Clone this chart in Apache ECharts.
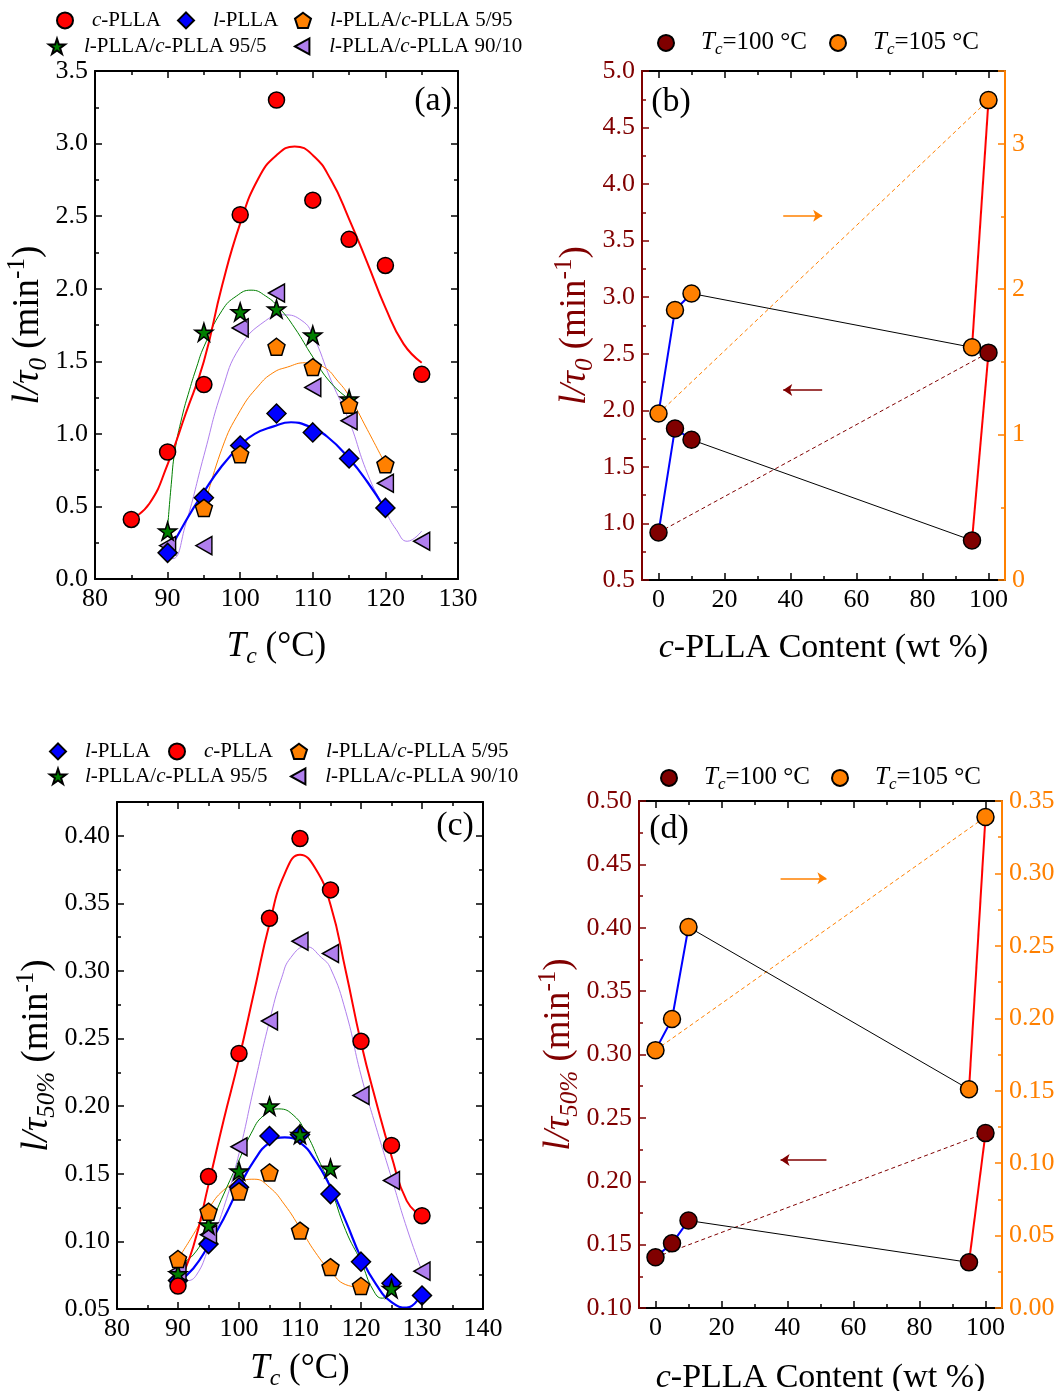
<!DOCTYPE html>
<html><head><meta charset="utf-8">
<script src="https://cdn.jsdelivr.net/npm/echarts@6/dist/echarts.min.js"></script>
<style>html,body{margin:0;padding:0;background:#fff}#c{width:1058px;height:1391px}</style>
</head><body><div id="c"></div>
<script>
// ---------- Panel (a): 1/tau0 vs Tc ----------
const a_cPLLA_T = [85, 90, 95, 100, 105, 110, 115, 120, 125];
const a_cPLLA   = [0.41, 0.875, 1.34, 2.51, 3.30, 2.61, 2.34, 2.16, 1.41];
const a_lPLLA_T = [90, 95, 100, 105, 110, 115, 120];
const a_lPLLA   = [0.18, 0.56, 0.92, 1.14, 1.01, 0.83, 0.49];
const a_595_T   = [95, 100, 105, 110, 115, 120];
const a_595     = [0.49, 0.86, 1.60, 1.46, 1.20, 0.79];
const a_955_T   = [90, 95, 100, 105, 110, 115];
const a_955     = [0.33, 1.70, 1.84, 1.86, 1.68, 1.24];
const a_9010_T  = [90, 95, 100, 105, 110, 115, 120, 125];
const a_9010    = [0.23, 0.23, 1.73, 1.97, 1.32, 1.09, 0.66, 0.26];
// fitted curves
const aFit_c_T = [85, 87.5, 90, 92.5, 95, 97.5, 100, 102.5, 105, 107.5, 110, 112.5, 115, 117.5, 120, 122.5, 125];
const aFit_c   = [0.41, 0.52, 0.79, 1.14, 1.50, 2.02, 2.45, 2.76, 2.92, 2.98, 2.92, 2.75, 2.48, 2.18, 1.87, 1.62, 1.49];
const aFit_l_T = [90, 92.5, 95, 97.5, 100, 102, 104.5, 107, 109.5, 112, 115, 117.5, 120];
const aFit_l   = [0.17, 0.40, 0.60, 0.78, 0.92, 1.00, 1.05, 1.08, 1.05, 0.98, 0.83, 0.67, 0.48];
const aFit_595_T = [95, 97.5, 100, 102.5, 104.5, 106.5, 109, 111.5, 113.5, 115, 117.5, 120];
const aFit_595   = [0.48, 0.90, 1.16, 1.33, 1.42, 1.46, 1.49, 1.46, 1.36, 1.26, 1.03, 0.79];
const aFit_955_T = [90, 90.5, 91, 92, 93, 94, 95, 97.5, 99.5, 101.5, 103.5, 105.5, 107.5, 110, 112.5, 115];
const aFit_955   = [0.35, 0.65, 0.88, 1.12, 1.30, 1.46, 1.60, 1.85, 1.95, 1.99, 1.95, 1.86, 1.73, 1.53, 1.35, 1.24];
const aFit_9010_T = [90, 90.7, 92.5, 95, 97.5, 100, 103.5, 106, 108.5, 110, 112.5, 115, 117.5, 120, 121.5, 123, 125];
const aFit_9010   = [0.17, 0.14, 0.38, 0.85, 1.30, 1.60, 1.78, 1.82, 1.78, 1.68, 1.37, 1.09, 0.73, 0.47, 0.34, 0.26, 0.33];

// ---------- Panel (b): 1/tau0 vs c-PLLA content ----------
const contentB = [0, 5, 10, 95, 100];
const b_Tc100 = [0.92, 1.84, 1.74, 0.85, 2.51];
const b_Tc105 = [1.145, 1.857, 1.97, 1.60, 3.30];
const arrowB_right = [[37.8, 3.72], [49.6, 3.72]];
const arrowB_left  = [[49.6, 2.18], [37.8, 2.18]];

// ---------- Panel (c): 1/tau50% vs Tc ----------
const c_T = [90, 95, 100, 105, 110, 115, 120, 125, 130];
const c_cPLLA = [0.067, 0.148, 0.239, 0.339, 0.398, 0.360, 0.248, 0.171, 0.119];
const c_lPLLA = [0.071, 0.098, 0.140, 0.178, 0.179, 0.135, 0.085, 0.069, 0.060];
const c_595_T = [90, 95, 100, 105, 110, 115, 120];
const c_595   = [0.087, 0.122, 0.137, 0.151, 0.108, 0.081, 0.067];
const c_955_T = [90, 95, 100, 105, 110, 115, 125];
const c_955   = [0.076, 0.112, 0.152, 0.200, 0.179, 0.154, 0.065];
const c_9010  = [0.078, 0.105, 0.170, 0.263, 0.322, 0.313, 0.208, 0.145, 0.078];
const cFit_c_T = [90, 92.5, 95, 97.5, 100, 102.5, 105, 107.5, 110, 112.5, 115, 117.5, 120, 122.5, 125, 127.5, 130];
const cFit_c   = [0.068, 0.096, 0.142, 0.190, 0.235, 0.285, 0.335, 0.372, 0.386, 0.376, 0.349, 0.300, 0.247, 0.203, 0.163, 0.130, 0.118];
const cFit_l_T = [90, 92.5, 95, 97.5, 100, 102.5, 105, 107.5, 110, 112.5, 115, 117.5, 120, 122.5, 125, 127.5, 130];
const cFit_l   = [0.070, 0.080, 0.097, 0.117, 0.140, 0.160, 0.173, 0.177, 0.173, 0.160, 0.140, 0.115, 0.088, 0.068, 0.055, 0.051, 0.062];
const cFit_595_T = [90, 92.5, 95, 97.5, 100, 102.5, 105, 107.5, 110, 112.5, 115, 117.5, 120];
const cFit_595   = [0.087, 0.105, 0.124, 0.138, 0.144, 0.146, 0.140, 0.127, 0.110, 0.092, 0.078, 0.068, 0.066];
const cFit_955_T = [90, 92.5, 95, 97.5, 100, 102, 104, 106.5, 109, 111, 113, 115, 117.5, 120, 122, 123.5, 125];
const cFit_955   = [0.083, 0.090, 0.110, 0.135, 0.160, 0.180, 0.193, 0.198, 0.193, 0.180, 0.161, 0.140, 0.108, 0.085, 0.064, 0.058, 0.062];
const cFit_9010_T = [90, 91.5, 93, 95, 97.5, 100, 102.5, 105, 107, 108.5, 111, 113.5, 115, 117.5, 120, 122.5, 125, 127.5, 130];
const cFit_9010   = [0.078, 0.071, 0.075, 0.095, 0.125, 0.165, 0.215, 0.263, 0.295, 0.310, 0.318, 0.310, 0.302, 0.270, 0.223, 0.184, 0.147, 0.110, 0.078];

// ---------- Panel (d): 1/tau50% vs c-PLLA content ----------
const contentD = [0, 5, 10, 95, 100];
const d_Tc100 = [0.140, 0.151, 0.169, 0.136, 0.238];
const d_Tc105 = [0.178, 0.1995, 0.263, 0.151, 0.339];
const arrowD_right = [[37.9, 0.439], [51.8, 0.439]];
const arrowD_left  = [[51.8, 0.2168], [37.9, 0.2168]];

// tick labels
const xTicksAC = { a: [80, 130, 10], c: [80, 140, 10] };
const contentMajor = [0, 20, 40, 60, 80, 100];
const contentMinor = [10, 30, 50, 70, 90];

// ---------- styling helpers ----------
const FONT = 'Liberation Serif';
const TICK_FS = 26;
const RED = '#ff0000', BLUE = '#0000ff', ORANGE = '#ff8000', GREEN = '#007f00', PURPLE = '#b07fee', MAROON = '#800000';
const SYM = {
  circle: 'circle',
  diamond: 'diamond',
  pentagon: 'path://M0,-1L0.951,-0.309L0.588,0.809L-0.588,0.809L-0.951,-0.309Z',
  star: 'path://M0,-1L0.2245,-0.309L0.951,-0.309L0.363,0.118L0.588,0.809L0,0.382L-0.588,0.809L-0.363,0.118L-0.951,-0.309L-0.2245,-0.309Z',
  triL: 'path://M-1,0L0.8,-1L0.8,1Z'
};
function rich(size, color) {
  return {
    i: { fontFamily: FONT, fontStyle: 'italic', fontSize: size, color: color, lineHeight: size * 1.25 },
    n: { fontFamily: FONT, fontSize: size, color: color, lineHeight: size * 1.25 },
    sub: { fontFamily: FONT, fontStyle: 'italic', fontSize: size * 0.68, color: color, lineHeight: size * 0.68, verticalAlign: 'bottom' },
    sup: { fontFamily: FONT, fontSize: size * 0.68, color: color, lineHeight: size * 0.68, verticalAlign: 'top' }
  };
}
const NAME_FMT = {
  'c-PLLA': '{i|c}{n|-PLLA}',
  'l-PLLA': '{i|l}{n|-PLLA}',
  'l-PLLA/c-PLLA 5/95': '{i|l}{n|-PLLA/}{i|c}{n|-PLLA 5/95}',
  'l-PLLA/c-PLLA 95/5': '{i|l}{n|-PLLA/}{i|c}{n|-PLLA 95/5}',
  'l-PLLA/c-PLLA 90/10': '{i|l}{n|-PLLA/}{i|c}{n|-PLLA 90/10}',
  'Tc=100 °C': '{i|T}{sub|c}{n|=100 °C}',
  'Tc=105 °C': '{i|T}{sub|c}{n|=105 °C}'
};
function leg(name, cx, cy, size, pad) {
  return {
    data: [name], left: cx - 8, top: cy - size * 0.625, itemWidth: 16, itemHeight: 16, itemGap: 0, padding: 0,
    selectedMode: false, orient: 'horizontal',
    textStyle: { fontFamily: FONT, fontSize: size, color: '#000', padding: [0, 0, 0, pad], rich: rich(size, '#000') },
    formatter: function (n) { return NAME_FMT[n] || n; }
  };
}
function vAxis(o) {
  const col = o.color || '#000';
  const ax = {
    type: 'value', gridIndex: o.g, min: o.min, max: o.max, position: o.pos,
    axisLine: { show: o.line !== false, onZero: false, lineStyle: { color: col, width: 2 } },
    axisTick: { show: true, inside: true, length: o.tickLen || 7, lineStyle: { color: col, width: 1.5 } },
    minorTick: { show: o.minor !== false, splitNumber: 2, length: 4, lineStyle: { color: col, width: 1.5 } },
    splitLine: { show: false }, minorSplitLine: { show: false },
    axisLabel: { show: !!o.labels, color: o.labelColor || '#000', fontFamily: FONT, fontSize: TICK_FS, margin: 7, formatter: o.fmt },
    z: o.z || 5
  };
  if (o.interval != null) ax.interval = o.interval;
  if (o.hideMax) ax.axisLabel.showMaxLabel = false;
  if (o.ticks) ax.axisTick.customValues = o.ticks;
  if (o.labelVals) ax.axisLabel.customValues = o.labelVals;
  if (o.name) {
    ax.name = o.name; ax.nameLocation = 'middle'; ax.nameGap = o.nameGap;
    if (o.nameRotate != null) ax.nameRotate = o.nameRotate;
    ax.nameTextStyle = { fontFamily: FONT, fontSize: o.nameSize, color: o.nameColor || '#000', rich: rich(o.nameSize, o.nameColor || '#000') };
  }
  return ax;
}
const zip = (xs, ys) => xs.map((x, i) => [x, ys[i]]);
function fit(name, xs, ys, color, w, xi, yi) {
  return { name: name, type: 'line', xAxisIndex: xi, yAxisIndex: yi, data: zip(xs, ys), smooth: 0.5, symbol: 'none', showSymbol: false,
    lineStyle: { color: color, width: w }, z: 2, silent: true };
}
function sc(name, xs, ys, color, sym, size, xi, yi, z) {
  return { name: name, type: 'scatter', xAxisIndex: xi, yAxisIndex: yi, data: zip(xs, ys), symbol: sym, symbolSize: size,
    itemStyle: { color: color, borderColor: '#000', borderWidth: 1.5, opacity: 1 }, z: z || 3 };
}
function seg(name, xs, ys, idx, color, w, type, xi, yi) {
  return { name: name, type: 'line', xAxisIndex: xi, yAxisIndex: yi, data: idx.map(i => [xs[i], ys[i]]), symbol: 'none',
    lineStyle: { color: color, width: w, type: type || 'solid' }, z: 2, silent: true };
}
function arrow(pts, color) {
  return [{ coord: pts[0], lineStyle: { color: color, width: 1.5, type: 'solid' } }, { coord: pts[1] }];
}

const tcName = '{i|T}{sub|c}{n| (°C)}';
const contentName = '{i|c}{n|-PLLA Content (wt %)}';

const xAxes = [
  // (a)
  vAxis({ g: 0, min: xTicksAC.a[0], max: xTicksAC.a[1], interval: xTicksAC.a[2], pos: 'bottom', labels: true, name: tcName, nameGap: 46, nameSize: 35 }),
  vAxis({ g: 0, min: xTicksAC.a[0], max: xTicksAC.a[1], interval: xTicksAC.a[2], pos: 'top' }),
  // (b)
  vAxis({ g: 1, min: -5, max: 105, pos: 'bottom', labels: true, minor: false, ticks: contentMajor, labelVals: contentMajor, name: contentName, nameGap: 47, nameSize: 34 }),
  vAxis({ g: 1, min: -5, max: 105, pos: 'bottom', line: false, minor: false, ticks: contentMinor, tickLen: 4 }),
  vAxis({ g: 1, min: -5, max: 105, pos: 'top', minor: false, ticks: contentMajor }),
  vAxis({ g: 1, min: -5, max: 105, pos: 'top', line: false, minor: false, ticks: contentMinor, tickLen: 4 }),
  // (c)
  vAxis({ g: 2, min: xTicksAC.c[0], max: xTicksAC.c[1], interval: xTicksAC.c[2], pos: 'bottom', labels: true, name: tcName, nameGap: 38, nameSize: 35 }),
  vAxis({ g: 2, min: xTicksAC.c[0], max: xTicksAC.c[1], interval: xTicksAC.c[2], pos: 'top' }),
  // (d)
  vAxis({ g: 3, min: -5, max: 105, pos: 'bottom', labels: true, minor: false, ticks: contentMajor, labelVals: contentMajor, name: contentName, nameGap: 49, nameSize: 34 }),
  vAxis({ g: 3, min: -5, max: 105, pos: 'bottom', line: false, minor: false, ticks: contentMinor, tickLen: 4 }),
  vAxis({ g: 3, min: -5, max: 105, pos: 'top', minor: false, ticks: contentMajor }),
  vAxis({ g: 3, min: -5, max: 105, pos: 'top', line: false, minor: false, ticks: contentMinor, tickLen: 4 })
];
const f1 = v => v.toFixed(1), f2 = v => v.toFixed(2), f0 = v => String(Math.round(v));
const tau0Name = '{i|l/τ}{sub|0}{n| (min}{sup|-1}{n|)}';
const tau50Name = '{i|l/τ}{sub|50%}{n| (min}{sup|-1}{n|)}';
const yAxes = [
  vAxis({ g: 0, min: 0, max: 3.5, interval: 0.5, pos: 'left', labels: true, fmt: f1, name: tau0Name, nameGap: 42, nameRotate: 90, nameSize: 37 }),
  vAxis({ g: 0, min: 0, max: 3.5, interval: 0.5, pos: 'right' }),
  vAxis({ g: 1, min: 0.5, max: 5.0, interval: 0.5, pos: 'left', labels: true, fmt: f1, color: MAROON, labelColor: MAROON, name: tau0Name, nameGap: 44, nameRotate: 90, nameSize: 37, nameColor: MAROON, z: 6 }),
  vAxis({ g: 1, min: 0, max: 3.5, interval: 1, pos: 'right', labels: true, fmt: f0, hideMax: true, color: ORANGE, labelColor: ORANGE, z: 6 }),
  vAxis({ g: 2, min: 0.05, max: 0.425, interval: 0.05, pos: 'left', labels: true, fmt: f2, hideMax: true, name: tau50Name, nameGap: 57, nameRotate: 90, nameSize: 37 }),
  vAxis({ g: 2, min: 0.05, max: 0.425, interval: 0.05, pos: 'right' }),
  vAxis({ g: 3, min: 0.10, max: 0.50, interval: 0.05, pos: 'left', labels: true, fmt: f2, color: MAROON, labelColor: MAROON, name: tau50Name, nameGap: 53, nameRotate: 90, nameSize: 37, nameColor: MAROON, z: 6 }),
  vAxis({ g: 3, min: 0, max: 0.35, interval: 0.05, pos: 'right', labels: true, fmt: f2, color: ORANGE, labelColor: ORANGE, z: 6 })
];

const N = { c: 'c-PLLA', l: 'l-PLLA', b595: 'l-PLLA/c-PLLA 5/95', b955: 'l-PLLA/c-PLLA 95/5', b9010: 'l-PLLA/c-PLLA 90/10', t100: 'Tc=100 °C', t105: 'Tc=105 °C' };

const series = [
  // (a) fits
  fit('fa9010', aFit_9010_T, aFit_9010, PURPLE, 1, 0, 0),
  fit('fa955', aFit_955_T, aFit_955, GREEN, 1, 0, 0),
  fit('fa595', aFit_595_T, aFit_595, ORANGE, 1, 0, 0),
  fit('fal', aFit_l_T, aFit_l, BLUE, 2.2, 0, 0),
  fit('fac', aFit_c_T, aFit_c, RED, 2, 0, 0),
  // (a) points
  sc(N.b9010, a_9010_T, a_9010, PURPLE, SYM.triL, [16, 18], 0, 0, 3),
  sc(N.b955, a_955_T, a_955, GREEN, SYM.star, 18, 0, 0, 3),
  sc(N.l, a_lPLLA_T, a_lPLLA, BLUE, SYM.diamond, 19, 0, 0, 3),
  sc(N.b595, a_595_T, a_595, ORANGE, SYM.pentagon, 17, 0, 0, 3),
  sc(N.c, a_cPLLA_T, a_cPLLA, RED, SYM.circle, 16, 0, 0, 3),

  // (b)
  Object.assign(seg('b100dash', contentB, b_Tc100, [0, 4], MAROON, 1, [4, 3], 2, 2), {
    markLine: { silent: true, symbol: ['none', 'arrow'], symbolSize: 9, label: { show: false },
      data: [arrow(arrowB_right, ORANGE), arrow(arrowB_left, MAROON)] } }),
  seg('b105dash', contentB, b_Tc105, [0, 4], ORANGE, 1, [4, 3], 2, 3),
  seg('b100k', contentB, b_Tc100, [2, 3], '#000', 1, 'solid', 2, 2),
  seg('b105k', contentB, b_Tc105, [2, 3], '#000', 1, 'solid', 2, 3),
  seg('b100b', contentB, b_Tc100, [0, 1, 2], BLUE, 2, 'solid', 2, 2),
  seg('b105b', contentB, b_Tc105, [0, 1, 2], BLUE, 2, 'solid', 2, 3),
  seg('b100r', contentB, b_Tc100, [3, 4], RED, 2, 'solid', 2, 2),
  seg('b105r', contentB, b_Tc105, [3, 4], RED, 2, 'solid', 2, 3),
  sc(N.t100, contentB, b_Tc100, MAROON, 'circle', 17, 2, 2, 4),
  sc(N.t105, contentB, b_Tc105, ORANGE, 'circle', 17, 2, 3, 4),

  // (c) fits
  fit('fc595', cFit_595_T, cFit_595, ORANGE, 1, 6, 4),
  fit('fc955', cFit_955_T, cFit_955, GREEN, 1, 6, 4),
  fit('fc9010', cFit_9010_T, cFit_9010, PURPLE, 1, 6, 4),
  fit('fcl', cFit_l_T, cFit_l, BLUE, 2.2, 6, 4),
  fit('fcc', cFit_c_T, cFit_c, RED, 2, 6, 4),
  // (c) points
  sc(N.l, c_T, c_lPLLA, BLUE, SYM.diamond, 19, 6, 4, 3),
  sc(N.b9010, c_T, c_9010, PURPLE, SYM.triL, [16, 18], 6, 4, 3),
  sc(N.b955, c_955_T, c_955, GREEN, SYM.star, 18, 6, 4, 3),
  sc(N.c, c_T, c_cPLLA, RED, SYM.circle, 16, 6, 4, 3),
  sc(N.b595, c_595_T, c_595, ORANGE, SYM.pentagon, 17, 6, 4, 3),

  // (d)
  Object.assign(seg('d100dash', contentD, d_Tc100, [0, 4], MAROON, 1, [4, 3], 8, 6), {
    markLine: { silent: true, symbol: ['none', 'arrow'], symbolSize: 9, label: { show: false },
      data: [arrow(arrowD_right, ORANGE), arrow(arrowD_left, MAROON)] } }),
  seg('d105dash', contentD, d_Tc105, [0, 4], ORANGE, 1, [4, 3], 8, 7),
  seg('d100k', contentD, d_Tc100, [2, 3], '#000', 1, 'solid', 8, 6),
  seg('d105k', contentD, d_Tc105, [2, 3], '#000', 1, 'solid', 8, 7),
  seg('d100b', contentD, d_Tc100, [0, 1, 2], BLUE, 2, 'solid', 8, 6),
  seg('d105b', contentD, d_Tc105, [0, 1, 2], BLUE, 2, 'solid', 8, 7),
  seg('d100r', contentD, d_Tc100, [3, 4], RED, 2, 'solid', 8, 6),
  seg('d105r', contentD, d_Tc105, [3, 4], RED, 2, 'solid', 8, 7),
  sc(N.t100, contentD, d_Tc100, MAROON, 'circle', 17, 8, 6, 4),
  sc(N.t105, contentD, d_Tc105, ORANGE, 'circle', 17, 8, 7, 4)
];

const legends = [
  leg(N.c, 64, 23, 21, 14), leg(N.l, 185, 23, 21, 14), leg(N.b595, 302, 23, 21, 14),
  leg(N.b955, 56, 49, 21, 14), leg(N.b9010, 302, 49, 21, 14),
  leg(N.t100, 665, 46, 25, 22), leg(N.t105, 837, 46, 25, 22),
  leg(N.l, 57, 754, 21, 14), leg(N.c, 176, 754, 21, 14), leg(N.b595, 298, 754, 21, 14),
  leg(N.b955, 57, 779, 21, 14), leg(N.b9010, 298, 779, 21, 14),
  leg(N.t100, 668, 781, 25, 22), leg(N.t105, 839, 781, 25, 22)
];

function panelLabel(t, x, y) {
  return { type: 'text', x: x, y: y, z: 10, style: { text: t, fontFamily: FONT, fontSize: 34, fill: '#000', align: 'center', verticalAlign: 'middle' } };
}

const option = {
  animation: false,
  backgroundColor: '#fff',
  grid: [
    { left: 95, top: 71, width: 363, height: 508, containLabel: false, outerBoundsMode: 'none' },
    { left: 642, top: 71, width: 363, height: 509, containLabel: false, outerBoundsMode: 'none' },
    { left: 117, top: 802, width: 366, height: 507, containLabel: false, outerBoundsMode: 'none' },
    { left: 639, top: 801, width: 363, height: 507, containLabel: false, outerBoundsMode: 'none' }
  ],
  xAxis: xAxes,
  yAxis: yAxes,
  legend: legends,
  series: series,
  graphic: [panelLabel('(a)', 433, 101), panelLabel('(b)', 671, 102), panelLabel('(c)', 455, 826), panelLabel('(d)', 669, 829)]
};
const chart = echarts.init(document.getElementById('c'), null, { renderer: 'canvas' });
chart.setOption(option);
</script></body></html>
